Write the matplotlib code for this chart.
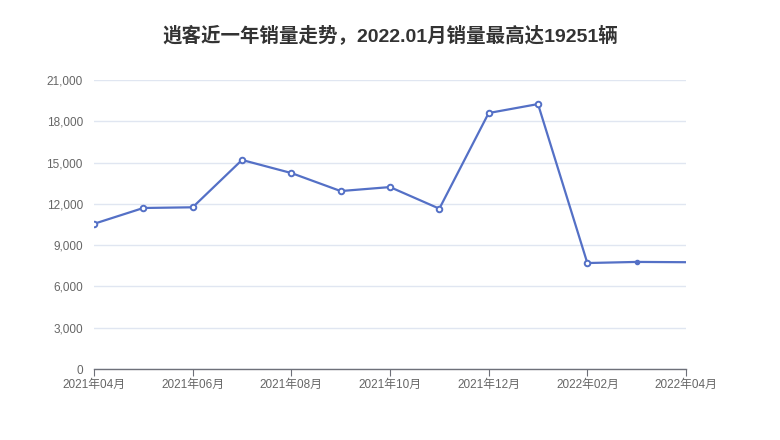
import matplotlib.pyplot as plt
from matplotlib.ticker import FuncFormatter

plt.rcParams['font.family'] = ['Liberation Sans', 'Noto Sans CJK SC', 'DejaVu Sans']

# monthly sales, 2021.04 - 2022.04
months = ['2021年04月', '2021年05月', '2021年06月', '2021年07月', '2021年08月',
          '2021年09月', '2021年10月', '2021年11月', '2021年12月', '2022年01月',
          '2022年02月', '2022年03月', '2022年04月']
sales = [10550, 11700, 11750, 15190, 14240, 12930, 13220, 11650, 18600, 19251,
         7700, 7780, 7760]
y_ticks = [0, 3000, 6000, 9000, 12000, 15000, 18000, 21000]

line_color = '#5470C6'
x = list(range(len(months)))

fig = plt.figure(figsize=(7.8, 4.4), dpi=100)
ax = fig.add_axes([94 / 780, 1 - 369 / 440, (686 - 94) / 780, (369 - 80) / 440])

ax.plot(x, sales, color=line_color, lw=1.6, zorder=3)
# open circles for most points, the last two drawn differently as in the original
ax.plot(x[:11], sales[:11], ls='none', marker='o', ms=4, mfc='white',
        mec=line_color, mew=1.4, zorder=4)
ax.plot(x[11], sales[11], ls='none', marker='o', ms=3, color=line_color, zorder=4)

ax.set_xlim(0, len(months) - 1)
ax.set_ylim(0, 21000)
ax.set_yticks(y_ticks)
ax.yaxis.set_major_formatter(FuncFormatter(lambda v, p: f'{int(v):,}'))
ax.set_xticks(x[::2])
ax.set_xticklabels(months[::2])

ax.grid(axis='y', color='#E0E6F1', lw=1)
ax.set_axisbelow(True)
for s in ['top', 'right', 'left']:
    ax.spines[s].set_visible(False)
ax.spines['bottom'].set_color('#6E7079')
ax.spines['bottom'].set_linewidth(1)
ax.tick_params(axis='y', length=0, pad=8, labelsize=8.5, labelcolor='#666666')
ax.tick_params(axis='x', length=5, color='#6E7079', pad=2, labelsize=8.5,
               labelcolor='#666666')

fig.text(0.5, 1 - 35 / 440, '逍客近一年销量走势，2022.01月销量最高达19251辆',
         ha='center', va='center', fontsize=14, fontweight='bold', color='#333333')

fig.savefig('out.png', dpi=100)
